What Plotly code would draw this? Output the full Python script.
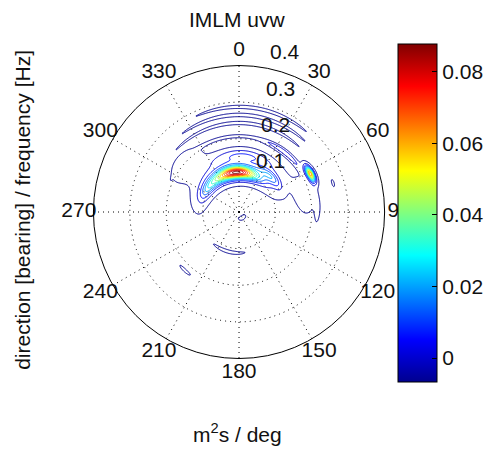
import numpy as np
import plotly.graph_objects as go

# ---- spectral components (direction in deg clockwise from north, frequency in Hz) ----
comp_dir   = [-3,     -10,    -52,    42,     5,      62,     38,     82,     75,     -48,    8,      4,      3,      -5,     195,    223,    150,    73]
comp_freq  = [0.108,  0.112,  0.106,  0.130,  0.155,  0.222,  0.205,  0.215,  0.185,  0.190,  0.287,  0.265,  0.243,  0.207,  0.112,  0.218,  0.018,  0.270]
comp_amp   = [0.060,  0.030,  0.015,  0.020,  0.014,  0.066,  0.012,  0.0045, 0.0035, 0.004,  0.006,  0.007,  0.006,  0.005,  0.006,  0.0045, 0.004,  0.0035]
comp_sdir  = [20,     35,     14,     12,     25,     4,      12,     10,     15,     14,     22,     25,     27,     27,     16,     4,      30,     2]
comp_sfreq = [0.010,  0.018,  0.010,  0.009,  0.012,  0.006,  0.005,  0.005,  0.025,  0.030,  0.003,  0.003,  0.003,  0.003,  0.003,  0.003,  0.005,  0.003]

angle_ticks = [0, 30, 60, 90, 120, 150, 180, 210, 240, 270, 300, 330]
radial_ticks = [0.1, 0.2, 0.3, 0.4]
cbar_ticks = [0, 0.02, 0.04, 0.06, 0.08]
cbar_labels = ["0", "0.02", "0.04", "0.06", "0.08"]
level_start, level_end, level_step = 0.002, 0.086, 0.006
cmin, cmax = -0.0067, 0.0878
rmax = 0.4
view = 0.5   # axis half-range, leaves room for the bearing labels

title_text = "IMLM uvw"
ylabel_text = "direction [bearing] / frequency [Hz]"
xlabel_text = "m<sup>2</sup>s / deg"

# ---- spectral density on a cartesian grid ----
n = 401
gx = np.linspace(-rmax, rmax, n)
gy = np.linspace(-rmax, rmax, n)
X, Y = np.meshgrid(gx, gy)
R = np.hypot(X, Y)
TH = np.degrees(np.arctan2(X, Y))
Z = np.zeros_like(R)
for d, f, a, sd, sf in zip(comp_dir, comp_freq, comp_amp, comp_sdir, comp_sfreq):
    dth = (TH - d + 180.0) % 360.0 - 180.0
    Z += a * np.exp(-0.5 * (dth / sd) ** 2 - 0.5 * ((R - f) / sf) ** 2)
Z[R > rmax] = np.nan

jet = [[0.0, "rgb(0,0,143)"], [0.125, "rgb(0,0,255)"], [0.375, "rgb(0,255,255)"],
       [0.625, "rgb(255,255,0)"], [0.875, "rgb(255,0,0)"], [1.0, "rgb(128,0,0)"]]

W, H = 489, 449
def px(x):
    return x / W
def py(y):
    return 1 - y / H

cx, cy, rad = 240.5, 212.0, 146.5
half = rad * view / rmax
font = "Liberation Sans, Arial, sans-serif"
txt = "#111111"

fig = go.Figure()
fig.add_trace(go.Contour(
    x=gx, y=gy, z=Z,
    contours=dict(start=level_start, end=level_end, size=level_step, coloring="lines"),
    colorscale=jet, zauto=False, zmin=cmin, zmax=cmax,
    line=dict(width=1.0), showscale=False, hoverinfo="skip"))

# colour scale reference
fig.add_trace(go.Scatter(
    x=[None], y=[None], mode="markers", showlegend=False, hoverinfo="skip",
    marker=dict(color=[cmin], cmin=cmin, cmax=cmax, colorscale=jet, showscale=True,
                colorbar=dict(x=px(400), xanchor="left", y=py(382), yanchor="bottom",
                              len=(382 - 44) / H, lenmode="fraction",
                              thickness=39, thicknessmode="pixels",
                              xpad=0, ypad=0, outlinewidth=1, outlinecolor="black",
                              tickvals=cbar_ticks, ticktext=cbar_labels,
                              ticks="inside", ticklen=5, tickcolor="black",
                              tickfont=dict(family=font, size=21, color=txt)))))

# bearing labels
ang = np.radians(angle_ticks)
fig.add_trace(go.Scatter(
    x=1.1 * rmax * np.sin(ang), y=1.1 * rmax * np.cos(ang),
    mode="text", text=[str(a) for a in angle_ticks], textposition="middle center",
    textfont=dict(family=font, size=21, color=txt), cliponaxis=False,
    showlegend=False, hoverinfo="skip"))

# polar grid
shapes = []
for r in radial_ticks[:-1]:
    shapes.append(dict(type="circle", xref="x", yref="y", x0=-r, x1=r, y0=-r, y1=r,
                       line=dict(color="black", width=1, dash="1px,4px"), layer="below"))
for a in angle_ticks:
    t = np.radians(a)
    shapes.append(dict(type="line", xref="x", yref="y", x0=0, y0=0,
                       x1=rmax * np.sin(t), y1=rmax * np.cos(t),
                       line=dict(color="black", width=1, dash="1px,4px"), layer="below"))
shapes.append(dict(type="circle", xref="x", yref="y", x0=-rmax, x1=rmax, y0=-rmax, y1=rmax,
                   line=dict(color="black", width=1), layer="above"))

annotations = []
t8 = np.radians(8)
for r in radial_ticks:
    annotations.append(dict(x=r * np.sin(t8), y=r * np.cos(t8), xref="x", yref="y",
                            text=f"{r:g}", showarrow=False, xanchor="center", yanchor="middle",
                            xshift=26, yshift=15, font=dict(family=font, size=21, color=txt)))
annotations.append(dict(x=px(239), y=py(19), xref="paper", yref="paper", text=title_text,
                        showarrow=False, xanchor="center", yanchor="middle",
                        font=dict(family=font, size=21, color=txt)))
annotations.append(dict(x=px(22), y=py(210), xref="paper", yref="paper", text=ylabel_text,
                        showarrow=False, textangle=-90, xanchor="center", yanchor="middle",
                        font=dict(family=font, size=21, color=txt)))
annotations.append(dict(x=px(239), y=py(433), xref="paper", yref="paper", text=xlabel_text,
                        showarrow=False, xanchor="center", yanchor="middle",
                        font=dict(family=font, size=21, color=txt)))

fig.update_layout(
    width=W, height=H, margin=dict(l=0, r=0, t=0, b=0),
    paper_bgcolor="white", plot_bgcolor="rgba(0,0,0,0)",
    xaxis=dict(range=[-view, view], domain=[px(cx - half), px(cx + half)], visible=False),
    yaxis=dict(range=[-view, view], domain=[py(cy + half), py(cy - half)], visible=False),
    shapes=shapes, annotations=annotations, showlegend=False)

fig.write_html("out.html")
